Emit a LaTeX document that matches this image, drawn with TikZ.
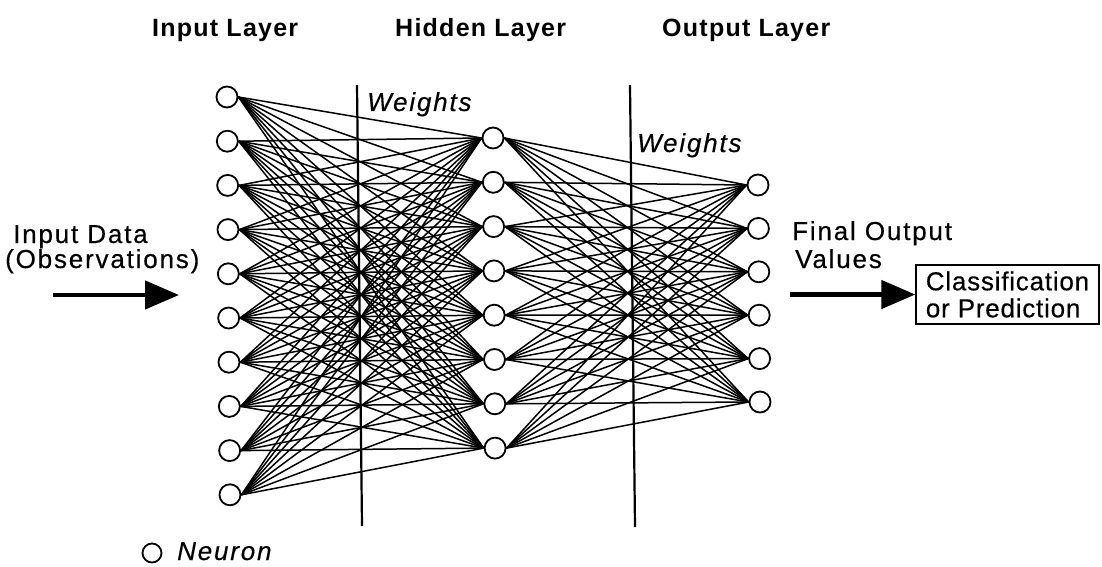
\documentclass[tikz,border=0pt]{standalone}
\usepackage{fontspec}
\setmainfont{Liberation Sans}
\newfontfamily\lblfont[LetterSpace=7,FakeBold=0.4]{Liberation Sans}
\newfontfamily\boxfont[LetterSpace=3,FakeBold=0.4]{Liberation Sans}
\newfontfamily\ttlfont[LetterSpace=5]{Liberation Sans}
\usetikzlibrary{arrows.meta}
\begin{document}
\begin{tikzpicture}[x=1pt,y=-1pt,
  neuron/.style={circle,draw=black,fill=white,line width=1.8pt,inner sep=0pt,minimum size=21pt},
  wire/.style={line width=1.5pt},
  divider/.style={line width=2.2pt},
  title/.style={anchor=base west,inner sep=0pt,font=\ttlfont\bfseries\fontsize{25}{29}\selectfont},
  lbl/.style={anchor=base west,inner sep=0pt,font=\lblfont\fontsize{26}{27}\selectfont},
  ilbl/.style={anchor=base west,inner sep=0pt,font=\lblfont\itshape\fontsize{26}{27}\selectfont},
  bigarrow/.style={line width=4.5pt,-{Triangle[length=34pt,width=28pt]}},
  resultbox/.style={draw=black,line width=1.3pt,minimum width=183pt,minimum height=59pt,
    align=left,inner sep=0pt,font=\boxfont\fontsize{26}{27}\selectfont}]
\useasboundingbox (0,0) rectangle (1102,567);

% layer titles
\node[title] (tIn)  at (152,37) {Input Layer};
\node[title] (tHid) at (395,37) {Hidden Layer};
\node[title] (tOut) at (662,37) {Output Layer};

% separators between the layers
\draw[divider] (357,85) -- (362,526);
\draw[divider] (630,85) -- (635,527);

% neurons
\foreach \i in {1,...,10}
  \node[neuron] (in\i) at ({227+(\i-1)*0.33},{97+(\i-1)*44.2}) {};
\foreach \j in {1,...,8}
  \node[neuron] (hid\j) at ({493+(\j-1)*0.3},{138+(\j-1)*44.3}) {};
\foreach \k in {1,...,6}
  \node[neuron] (out\k) at ({758+(\k-1)*0.4},{185+(\k-1)*43.4}) {};

% weighted connections
\foreach \i in {1,...,10}
  \foreach \j in {1,...,8}
    \draw[wire] (in\i.east) -- (hid\j.west);
\foreach \j in {1,...,8}
  \foreach \k in {1,...,6}
    \draw[wire] (hid\j.east) -- (out\k.west);

\node[ilbl] (w1) at (367,111) {Weights};
\node[ilbl] (w2) at (637,152) {Weights};

% input side
\node[lbl] (inData) at (13,243) {Input Data};
\node[lbl] (inObs)  at (5,268) {(Observations)};
\coordinate (inStart) at (53,295);
\coordinate (inEnd) at (179,295);
\draw[bigarrow] (inStart) -- (inEnd);

% output side
\node[lbl] (outFinal) at (792,240) {Final Output};
\node[lbl] (outVals)  at (795,268) {Values};
\node[resultbox] (result) at (1007.5,294.5) {Classification\\or Prediction};
\coordinate (outStart) at (790,294.5);
\draw[bigarrow] (outStart) -- (result.west);

% legend
\node[neuron,minimum size=19pt] (legend) at (152,553) {};
\node[ilbl] (legendTxt) at (177,560) {Neuron};
\end{tikzpicture}
\end{document}
